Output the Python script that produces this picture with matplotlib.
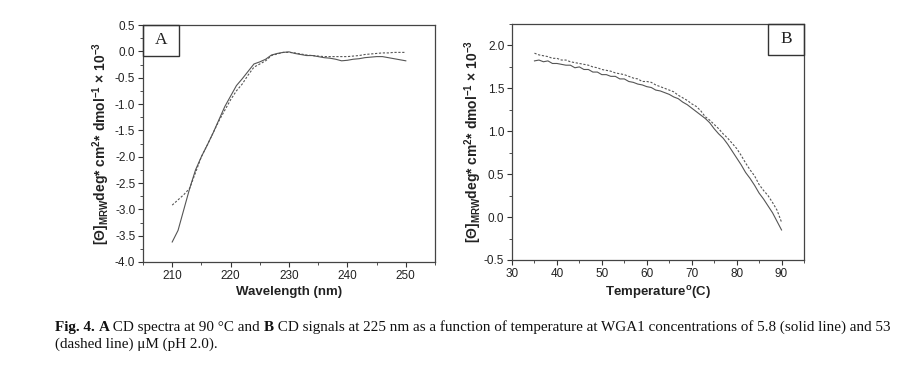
import numpy as np
import matplotlib
matplotlib.use("Agg")
import matplotlib.pyplot as plt
from matplotlib.patches import Rectangle
from matplotlib.ticker import MultipleLocator, FormatStrFormatter

plt.rcParams['font.family'] = ['Liberation Sans', 'DejaVu Sans']
plt.rcParams['mathtext.fontset'] = 'custom'
plt.rcParams['mathtext.rm'] = 'Liberation Sans:bold'
plt.rcParams['mathtext.it'] = 'Liberation Sans:bold'
plt.rcParams['mathtext.bf'] = 'Liberation Sans:bold'

# panel A: CD spectra at 90 C
wavelength = np.arange(210, 251)
spec_solid = [-3.62, -3.40, -3.00, -2.60, -2.25, -2.00, -1.78, -1.55, -1.30, -1.05,
              -0.85, -0.65, -0.52, -0.38, -0.24, -0.20, -0.15, -0.07, -0.04, -0.02,
              -0.01, -0.04, -0.06, -0.08, -0.08, -0.10, -0.12, -0.13, -0.15, -0.18,
              -0.17, -0.15, -0.14, -0.12, -0.11, -0.10, -0.10, -0.12, -0.14, -0.16,
              -0.18]
spec_dashed = [-2.92, -2.82, -2.72, -2.60, -2.30, -2.00, -1.78, -1.55, -1.32, -1.12,
               -0.92, -0.75, -0.62, -0.45, -0.30, -0.24, -0.18, -0.08, -0.05, -0.02,
               -0.02, -0.03, -0.05, -0.07, -0.08, -0.09, -0.10, -0.10, -0.10, -0.10,
               -0.10, -0.09, -0.08, -0.06, -0.05, -0.04, -0.03, -0.03, -0.02, -0.02,
               -0.02]

# panel B: CD signal at 225 nm vs temperature
temperature = np.arange(35, 91)
temp_solid = [1.82, 1.83, 1.81, 1.82, 1.79, 1.79, 1.78, 1.77, 1.77, 1.74,
              1.75, 1.72, 1.72, 1.69, 1.69, 1.66, 1.66, 1.64, 1.64, 1.61,
              1.61, 1.58, 1.57, 1.55, 1.54, 1.52, 1.51, 1.48, 1.47, 1.45,
              1.43, 1.40, 1.38, 1.34, 1.31, 1.27, 1.23, 1.19, 1.15, 1.10,
              1.03, 0.97, 0.92, 0.85, 0.77, 0.69, 0.61, 0.52, 0.45, 0.37,
              0.28, 0.21, 0.13, 0.05, -0.05, -0.15]
temp_dashed = [1.91, 1.89, 1.88, 1.87, 1.85, 1.85, 1.83, 1.83, 1.81, 1.80,
               1.79, 1.78, 1.77, 1.75, 1.74, 1.72, 1.71, 1.70, 1.68, 1.67,
               1.66, 1.64, 1.62, 1.61, 1.58, 1.58, 1.57, 1.54, 1.52, 1.50,
               1.48, 1.46, 1.42, 1.39, 1.36, 1.32, 1.29, 1.24, 1.17, 1.13,
               1.08, 1.03, 0.97, 0.92, 0.86, 0.80, 0.72, 0.63, 0.55, 0.48,
               0.38, 0.31, 0.25, 0.17, 0.08, -0.06]

ylabel = r'[Θ]$_{MRW}$deg* cm$^{2}$* dmol$^{-1}$ × 10$^{-3}$'
caption1 = [('Fig. 4. ', 'bold'), ('A', 'bold'), (' CD spectra at 90 °C and ', 'normal'),
            ('B', 'bold'),
            (' CD signals at 225 nm as a function of temperature at WGA1 concentrations of 5.8 (solid line) and 53', 'normal')]
caption2 = [('(dashed line) μM (pH 2.0).', 'normal')]

W, H = 909, 372
fig = plt.figure(figsize=(W / 100, H / 100), dpi=100)
ax_a = fig.add_axes([143 / W, 1 - 262 / H, 292 / W, 237 / H])
ax_b = fig.add_axes([512 / W, 1 - 260 / H, 292 / W, 236 / H])

line_col = '#555555'
for ax in (ax_a, ax_b):
    for s in ax.spines.values():
        s.set_color('#444444')
        s.set_linewidth(0.9)
    ax.tick_params(which='both', direction='out', colors='#333333', labelsize=8.5,
                   labelcolor='#222222', top=False, right=False, pad=2)
    ax.tick_params(which='major', length=3.5, width=0.8)
    ax.tick_params(which='minor', length=2, width=0.6)
    ax.xaxis.set_major_locator(MultipleLocator(10))
    ax.xaxis.set_minor_locator(MultipleLocator(5))
    ax.yaxis.set_major_locator(MultipleLocator(0.5))
    ax.yaxis.set_minor_locator(MultipleLocator(0.25))
    ax.yaxis.set_major_formatter(FormatStrFormatter('%.1f'))

ax_a.plot(wavelength, spec_solid, color=line_col, lw=0.8)
ax_a.plot(wavelength, spec_dashed, color=line_col, lw=0.8, ls=(0, (2, 1.5)))
ax_a.set_xlim(205, 255)
ax_a.set_ylim(-4.0, 0.5)
ax_a.set_xlabel('Wavelength (nm)', fontsize=9.5, fontweight='bold', labelpad=3, color='#222222')
ax_a.set_ylabel(ylabel, fontsize=10, fontweight='bold', labelpad=2, color='#222222')

ax_b.plot(temperature, temp_solid, color=line_col, lw=0.8)
ax_b.plot(temperature, temp_dashed, color=line_col, lw=0.8, ls=(0, (2, 1.5)))
ax_b.set_xlim(30, 95)
ax_b.set_ylim(-0.5, 2.25)
ax_b.set_xlabel(r'Temperature$^{o}$(C)', fontsize=9.5, fontweight='bold', labelpad=3, color='#222222')
ax_b.set_ylabel(ylabel, fontsize=10, fontweight='bold', labelpad=0, color='#222222')

# panel letter boxes
for ax, letter, loc in ((ax_a, 'A', 'left'), (ax_b, 'B', 'right')):
    bw, bh = 36 / 292, 31 / 237
    x0 = 0 if loc == 'left' else 1 - bw
    ax.add_patch(Rectangle((x0, 1 - bh), bw, bh, transform=ax.transAxes, fill=False,
                           edgecolor='#333333', lw=1.0, clip_on=False, zorder=5))
    ax.text(x0 + bw / 2, 1 - bh / 2, letter, transform=ax.transAxes, ha='center',
            va='center', fontsize=12.5, family='Liberation Serif', color='#222222')

# caption with mixed bold runs
renderer = fig.canvas.get_renderer()
def draw_runs(runs, x, y, size=10.9):
    for txt, weight in runs:
        t = fig.text(x / W, 1 - y / H, txt, fontsize=size, fontweight=weight,
                     family='Liberation Serif', va='baseline', ha='left', color='#111111')
        bb = t.get_window_extent(renderer)
        x += bb.width

draw_runs(caption1, 55, 331)
draw_runs(caption2, 55, 348)

fig.savefig('out.png', dpi=100)
